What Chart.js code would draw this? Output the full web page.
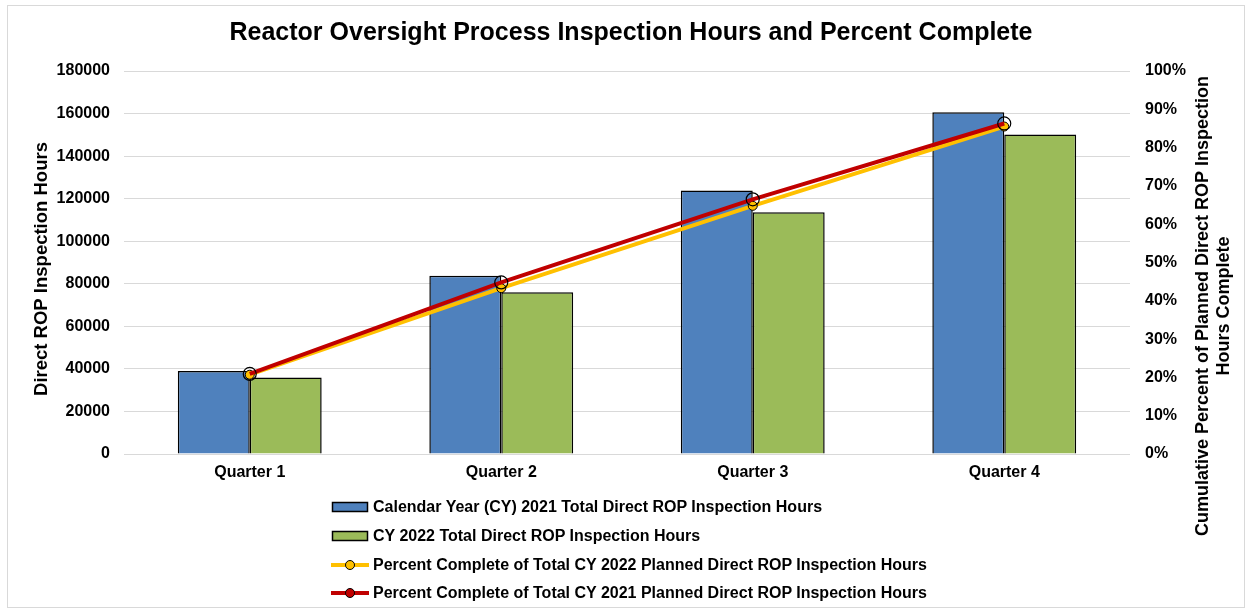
<!DOCTYPE html>
<html><head><meta charset="utf-8">
<script src="https://cdn.jsdelivr.net/npm/chart.js@4"></script>
<style>
html,body{margin:0;padding:0;background:#fff;}
#wrap{position:relative;width:1250px;height:613px;overflow:hidden;}
#frame{position:absolute;left:7px;top:5px;width:1238px;height:603px;border:1.5px solid #d9d9d9;box-sizing:border-box;pointer-events:none;}
#c{position:absolute;left:0;top:0;}
#legend{position:absolute;left:331px;top:493px;font:bold 16px "Liberation Sans",Arial,sans-serif;color:#000;}
.row{height:28.7px;display:flex;align-items:center;white-space:nowrap;}
.row svg{margin-right:3px;}
</style></head>
<body>
<div id="wrap">
<canvas id="c" width="1250" height="613"></canvas>
<div id="frame"></div>
<div id="legend"></div>
</div>
<script>
const categories = ['Quarter 1', 'Quarter 2', 'Quarter 3', 'Quarter 4'];
const hours2021 = [39000, 83800, 123800, 160600];
const hours2022 = [36000, 76000, 113600, 150200];
const pct2022 = [0.207, 0.433, 0.648, 0.855];
const pct2021 = [0.209, 0.448, 0.665, 0.863];
const leftTicksMax = 180000;
const leftTickStep = 20000;
const titleText = 'Reactor Oversight Process Inspection Hours and Percent Complete';
const leftAxisTitle = 'Direct ROP Inspection Hours';
const rightAxisTitle = ['Cumulative Percent of Planned Direct ROP Inspection', 'Hours Complete'];
const seriesNames = [
  'Calendar Year (CY) 2021 Total Direct ROP Inspection Hours',
  'CY 2022 Total Direct ROP Inspection Hours',
  'Percent Complete of Total CY 2022 Planned Direct ROP Inspection Hours',
  'Percent Complete of Total CY 2021 Planned Direct ROP Inspection Hours'
];

const FONT = '"Liberation Sans", Arial, sans-serif';
const BLUE = '#4f81bd', GREEN = '#9bbb59', YELLOW = '#ffc000', RED = '#c00000';

const titlesPlugin = {
  id: 'titles',
  afterDraw(chart) {
    const ctx = chart.ctx;
    ctx.save();
    ctx.fillStyle = '#000';
    ctx.textAlign = 'center';
    ctx.textBaseline = 'middle';
    ctx.font = 'bold 25px ' + FONT;
    ctx.fillText(titleText, 631, 33);
    ctx.font = 'bold 18.5px ' + FONT;
    ctx.save();
    ctx.translate(42, 269);
    ctx.rotate(-Math.PI / 2);
    ctx.fillText(leftAxisTitle, 0, 0);
    ctx.restore();
    ctx.font = 'bold 18px ' + FONT;
    ctx.save();
    ctx.translate(1203, 306);
    ctx.rotate(-Math.PI / 2);
    ctx.fillText(rightAxisTitle[0], 0, 0);
    ctx.fillText(rightAxisTitle[1], 0, 21);
    ctx.restore();
    ctx.restore();
  }
};

const chart = new Chart(document.getElementById('c'), {
  data: {
    labels: categories,
    datasets: [
      { type: 'bar', label: seriesNames[0], data: hours2021, backgroundColor: BLUE, borderColor: '#000', borderWidth: 1.5, yAxisID: 'y', order: 3, categoryPercentage: 0.572, barPercentage: 1.0 },
      { type: 'bar', label: seriesNames[1], data: hours2022, backgroundColor: GREEN, borderColor: '#000', borderWidth: 1.5, yAxisID: 'y', order: 3, categoryPercentage: 0.572, barPercentage: 1.0 },
      { type: 'line', label: seriesNames[2], data: pct2022, borderColor: YELLOW, borderWidth: 4, pointRadius: 4.5, pointBackgroundColor: YELLOW, pointBorderColor: '#000', pointBorderWidth: 1, yAxisID: 'y1', order: 2, tension: 0 },
      { type: 'line', label: seriesNames[3], data: pct2021, borderColor: RED, borderWidth: 4, pointRadius: 6.5, pointBackgroundColor: 'rgba(0,0,0,0)', pointBorderColor: '#000', pointBorderWidth: 1.2, yAxisID: 'y1', order: 1, tension: 0 }
    ]
  },
  options: {
    responsive: false,
    animation: false,
    devicePixelRatio: 1,
    layout: { padding: { top: 71, bottom: 129, left: 0, right: 0 } },
    plugins: { legend: { display: false }, title: { display: false }, tooltip: { enabled: false } },
    scales: {
      x: {
        grid: { display: false, drawTicks: false },
        border: { display: false },
        ticks: { font: { family: FONT, size: 16, weight: 'bold' }, color: '#000', padding: 9 },
        afterFit(s) { s.height = 30; }
      },
      y: {
        position: 'left', min: 0, max: leftTicksMax,
        ticks: { stepSize: leftTickStep, font: { family: FONT, size: 16, weight: 'bold' }, color: '#000', padding: 14,
          callback: v => String(v) },
        grid: { color: '#d9d9d9', lineWidth: 1, drawTicks: false },
        border: { display: false },
        afterFit(s) { s.width = 124; }
      },
      y1: {
        position: 'right', min: 0, max: 1,
        ticks: { stepSize: 0.1, font: { family: FONT, size: 16, weight: 'bold' }, color: '#000', padding: 15,
          callback: v => Math.round(v * 100) + '%' },
        grid: { display: false, drawTicks: false },
        border: { display: false },
        afterFit(s) { s.width = 120; }
      }
    }
  },
  plugins: [titlesPlugin]
});

// HTML legend built from the chart's datasets
const legend = document.getElementById('legend');
[0, 1, 2, 3].forEach(i => {
  const ds = chart.data.datasets[i];
  const row = document.createElement('div');
  row.className = 'row';
  let svg;
  if (ds.type === 'bar') {
    svg = `<svg width="39" height="14"><rect x="1.5" y="2.5" width="35" height="9" fill="${ds.backgroundColor}" stroke="#000" stroke-width="1.5"/></svg>`;
  } else {
    const fill = i === 3 ? RED : ds.pointBackgroundColor;
    svg = `<svg width="39" height="14"><line x1="0" y1="7" x2="38" y2="7" stroke="${ds.borderColor}" stroke-width="4"/><circle cx="19" cy="7" r="4.5" fill="${fill}" stroke="#000" stroke-width="1"/></svg>`;
  }
  row.innerHTML = svg + '<span></span>';
  row.querySelector('span').textContent = ds.label;
  legend.appendChild(row);
});
</script>
</body></html>
